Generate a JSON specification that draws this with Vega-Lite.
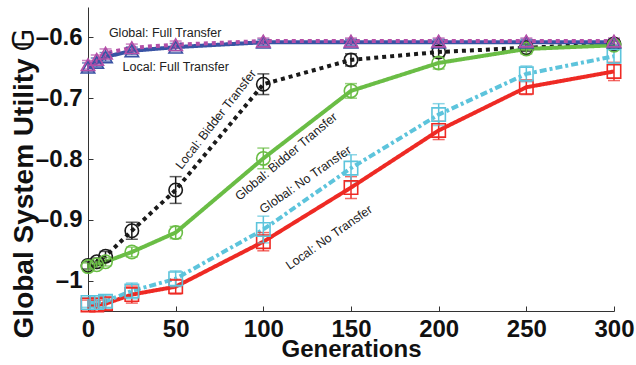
{
  "$schema": "https://vega.github.io/schema/vega-lite/v6.json",
  "width": 526,
  "height": 304,
  "autosize": "none",
  "padding": {"left": 88, "top": 7, "right": 22, "bottom": 54},
  "background": "white",
  "config": {
    "view": {"stroke": null},
    "font": "Liberation Sans"
  },
  "datasets": {
    "pts": [
      {"series": "Local: Bidder Transfer", "gen": 0, "value": -0.975, "err": 0.006},
      {"series": "Local: Bidder Transfer", "gen": 5, "value": -0.969, "err": 0.006},
      {"series": "Local: Bidder Transfer", "gen": 10, "value": -0.960, "err": 0.008},
      {"series": "Local: Bidder Transfer", "gen": 25, "value": -0.918, "err": 0.014},
      {"series": "Local: Bidder Transfer", "gen": 50, "value": -0.851, "err": 0.022},
      {"series": "Local: Bidder Transfer", "gen": 100, "value": -0.677, "err": 0.017},
      {"series": "Local: Bidder Transfer", "gen": 150, "value": -0.637, "err": 0.01},
      {"series": "Local: Bidder Transfer", "gen": 200, "value": -0.624, "err": 0.008},
      {"series": "Local: Bidder Transfer", "gen": 250, "value": -0.617, "err": 0.006},
      {"series": "Local: Bidder Transfer", "gen": 300, "value": -0.611, "err": 0.005},
      {"series": "Global: Bidder Transfer", "gen": 0, "value": -0.977, "err": 0.006},
      {"series": "Global: Bidder Transfer", "gen": 5, "value": -0.974, "err": 0.006},
      {"series": "Global: Bidder Transfer", "gen": 10, "value": -0.969, "err": 0.007},
      {"series": "Global: Bidder Transfer", "gen": 25, "value": -0.953, "err": 0.008},
      {"series": "Global: Bidder Transfer", "gen": 50, "value": -0.921, "err": 0.01},
      {"series": "Global: Bidder Transfer", "gen": 100, "value": -0.799, "err": 0.017},
      {"series": "Global: Bidder Transfer", "gen": 150, "value": -0.688, "err": 0.012},
      {"series": "Global: Bidder Transfer", "gen": 200, "value": -0.642, "err": 0.01},
      {"series": "Global: Bidder Transfer", "gen": 250, "value": -0.619, "err": 0.008},
      {"series": "Global: Bidder Transfer", "gen": 300, "value": -0.613, "err": 0.006},
      {"series": "Local: No Transfer", "gen": 0, "value": -1.04, "err": 0.008},
      {"series": "Local: No Transfer", "gen": 5, "value": -1.04, "err": 0.008},
      {"series": "Local: No Transfer", "gen": 10, "value": -1.038, "err": 0.01},
      {"series": "Local: No Transfer", "gen": 25, "value": -1.023, "err": 0.014},
      {"series": "Local: No Transfer", "gen": 50, "value": -1.01, "err": 0.012},
      {"series": "Local: No Transfer", "gen": 100, "value": -0.936, "err": 0.015},
      {"series": "Local: No Transfer", "gen": 150, "value": -0.847, "err": 0.018},
      {"series": "Local: No Transfer", "gen": 200, "value": -0.753, "err": 0.015},
      {"series": "Local: No Transfer", "gen": 250, "value": -0.682, "err": 0.012},
      {"series": "Local: No Transfer", "gen": 300, "value": -0.656, "err": 0.015},
      {"series": "Global: No Transfer", "gen": 0, "value": -1.036, "err": 0.008},
      {"series": "Global: No Transfer", "gen": 5, "value": -1.036, "err": 0.008},
      {"series": "Global: No Transfer", "gen": 10, "value": -1.034, "err": 0.01},
      {"series": "Global: No Transfer", "gen": 25, "value": -1.017, "err": 0.013},
      {"series": "Global: No Transfer", "gen": 50, "value": -0.997, "err": 0.013},
      {"series": "Global: No Transfer", "gen": 100, "value": -0.916, "err": 0.022},
      {"series": "Global: No Transfer", "gen": 150, "value": -0.815, "err": 0.022},
      {"series": "Global: No Transfer", "gen": 200, "value": -0.727, "err": 0.018},
      {"series": "Global: No Transfer", "gen": 250, "value": -0.66, "err": 0.013},
      {"series": "Global: No Transfer", "gen": 300, "value": -0.631, "err": 0.012},
      {"series": "Local: Full Transfer", "gen": 0, "value": -0.649, "err": 0.007},
      {"series": "Local: Full Transfer", "gen": 5, "value": -0.641, "err": 0.007},
      {"series": "Local: Full Transfer", "gen": 10, "value": -0.632, "err": 0.007},
      {"series": "Local: Full Transfer", "gen": 25, "value": -0.622, "err": 0.006},
      {"series": "Local: Full Transfer", "gen": 50, "value": -0.616, "err": 0.006},
      {"series": "Local: Full Transfer", "gen": 100, "value": -0.608, "err": 0.005},
      {"series": "Local: Full Transfer", "gen": 150, "value": -0.608, "err": 0.005},
      {"series": "Local: Full Transfer", "gen": 200, "value": -0.608, "err": 0.005},
      {"series": "Local: Full Transfer", "gen": 250, "value": -0.608, "err": 0.005},
      {"series": "Local: Full Transfer", "gen": 300, "value": -0.608, "err": 0.005},
      {"series": "Global: Full Transfer", "gen": 0, "value": -0.645, "err": 0.007},
      {"series": "Global: Full Transfer", "gen": 5, "value": -0.636, "err": 0.007},
      {"series": "Global: Full Transfer", "gen": 10, "value": -0.626, "err": 0.007},
      {"series": "Global: Full Transfer", "gen": 25, "value": -0.617, "err": 0.006},
      {"series": "Global: Full Transfer", "gen": 50, "value": -0.612, "err": 0.006},
      {"series": "Global: Full Transfer", "gen": 100, "value": -0.606, "err": 0.005},
      {"series": "Global: Full Transfer", "gen": 150, "value": -0.606, "err": 0.005},
      {"series": "Global: Full Transfer", "gen": 200, "value": -0.606, "err": 0.005},
      {"series": "Global: Full Transfer", "gen": 250, "value": -0.606, "err": 0.005},
      {"series": "Global: Full Transfer", "gen": 300, "value": -0.606, "err": 0.005}
    ],
    "labels": [
      {"label": "Global: Full Transfer", "gen": 44, "value": -0.593},
      {"label": "Local: Full Transfer", "gen": 50, "value": -0.649},
      {"label": "Local: Bidder Transfer", "gen": 73, "value": -0.735},
      {"label": "Global: Bidder Transfer", "gen": 113, "value": -0.796},
      {"label": "Global: No Transfer", "gen": 124, "value": -0.834},
      {"label": "Local: No Transfer", "gen": 137.5, "value": -0.929}
    ]
  },
  "layer": [
    {
      "data": {"name": "pts"},
      "mark": {"type": "line", "strokeWidth": 4, "strokeCap": "butt"},
      "encoding": {
        "x": {"field": "gen", "type": "quantitative", "title": "Generations"},
        "y": {"field": "value", "type": "quantitative", "title": "Global System Utility 𝔾"},
        "color": {"field": "series", "type": "nominal", "legend": null},
        "strokeDash": {"field": "series", "type": "nominal", "legend": null,
          "scale": {
            "domain": ["Local: Bidder Transfer", "Global: Bidder Transfer", "Local: No Transfer", "Global: No Transfer", "Local: Full Transfer", "Global: Full Transfer"],
            "range": [[4, 4], [1, 0], [1, 0], [7, 3, 3, 3], [1, 0], [4, 4]]
          }}
      }
    },
    {
      "data": {"name": "pts"},
      "mark": {"type": "errorbar", "ticks": {"size": 12}, "thickness": 1.5},
      "encoding": {
        "x": {"field": "gen", "type": "quantitative", "title": "Generations"},
        "y": {"field": "value", "type": "quantitative", "title": "Global System Utility 𝔾"},
        "yError": {"field": "err"},
        "color": {"field": "series", "type": "nominal", "legend": null}
      }
    },
    {
      "data": {"name": "pts"},
      "mark": {"type": "point", "filled": false, "strokeWidth": 1.6, "size": 180, "opacity": 1},
      "encoding": {
        "x": {"field": "gen", "type": "quantitative",
          "scale": {"domain": [0, 300], "nice": false, "zero": false},
          "title": "Generations",
          "axis": {
            "values": [0, 50, 100, 150, 200, 250, 300],
            "titleFont": "Liberation Sans", "titleFontSize": 24, "titleFontWeight": "bold", "titleColor": "#111",
            "titlePadding": -4,
            "labelFont": "Liberation Sans", "labelFontSize": 24, "labelFontWeight": "bold", "labelColor": "#111",
            "labelPadding": 11,
            "tickSize": -5, "tickColor": "#333", "domainColor": "#333", "grid": false, "labelFlush": false, "labelOverlap": false
          }},
        "y": {"field": "value", "type": "quantitative",
          "scale": {"domain": [-1.05, -0.55], "nice": false, "zero": false},
          "title": "Global System Utility 𝔾",
          "axis": {
            "values": [-1, -0.9, -0.8, -0.7, -0.6],
            "labelExpr": "datum.value == -1 ? '–1' : '–' + format(abs(datum.value), '.1f')",
            "titleFont": "Liberation Sans", "titleFontSize": 28, "titleFontWeight": "bold", "titleColor": "#111",
            "titleY": 176,
            "titleX": -56,
            "titleBaseline": "alphabetic",
            "titleAlign": "center",
            "titleAngle": -90,
            "labelFont": "Liberation Sans", "labelFontSize": 24, "labelFontWeight": "bold", "labelColor": "#111",
            "labelPadding": 11,
            "tickSize": -5, "tickColor": "#333", "domainColor": "#333", "grid": false, "labelFlush": false, "labelOverlap": false
          }},
        "color": {"field": "series", "type": "nominal", "legend": null,
          "scale": {
            "domain": ["Local: Bidder Transfer", "Global: Bidder Transfer", "Local: No Transfer", "Global: No Transfer", "Local: Full Transfer", "Global: Full Transfer"],
            "range": ["#1a1a1a", "#6abd45", "#ee2a24", "#5dc4dc", "#3953a4", "#b34fa8"]
          }},
        "shape": {"field": "series", "type": "nominal", "legend": null,
          "scale": {
            "domain": ["Local: Bidder Transfer", "Global: Bidder Transfer", "Local: No Transfer", "Global: No Transfer", "Local: Full Transfer", "Global: Full Transfer"],
            "range": ["circle", "circle", "square", "square", "triangle-up", "triangle-up"]
          }}
      }
    },
    {
      "data": {"name": "labels"},
      "transform": [{"filter": "datum.label == 'Global: Full Transfer' || datum.label == 'Local: Full Transfer'"}],
      "mark": {"type": "text", "fontSize": 12.5, "font": "Liberation Sans", "color": "#222"},
      "encoding": {"x": {"field": "gen", "type": "quantitative"}, "y": {"field": "value", "type": "quantitative"}, "text": {"field": "label"}}
    },
    {
      "data": {"name": "labels"},
      "transform": [{"filter": "datum.label == 'Local: Bidder Transfer'"}],
      "mark": {"type": "text", "fontSize": 12.5, "font": "Liberation Sans", "color": "#222", "angle": -52},
      "encoding": {"x": {"field": "gen", "type": "quantitative"}, "y": {"field": "value", "type": "quantitative"}, "text": {"field": "label"}}
    },
    {
      "data": {"name": "labels"},
      "transform": [{"filter": "datum.label == 'Global: Bidder Transfer'"}],
      "mark": {"type": "text", "fontSize": 12.5, "font": "Liberation Sans", "color": "#222", "angle": -40},
      "encoding": {"x": {"field": "gen", "type": "quantitative"}, "y": {"field": "value", "type": "quantitative"}, "text": {"field": "label"}}
    },
    {
      "data": {"name": "labels"},
      "transform": [{"filter": "datum.label == 'Global: No Transfer' || datum.label == 'Local: No Transfer'"}],
      "mark": {"type": "text", "fontSize": 12.5, "font": "Liberation Sans", "color": "#222", "angle": -35},
      "encoding": {"x": {"field": "gen", "type": "quantitative"}, "y": {"field": "value", "type": "quantitative"}, "text": {"field": "label"}}
    }
  ]
}
